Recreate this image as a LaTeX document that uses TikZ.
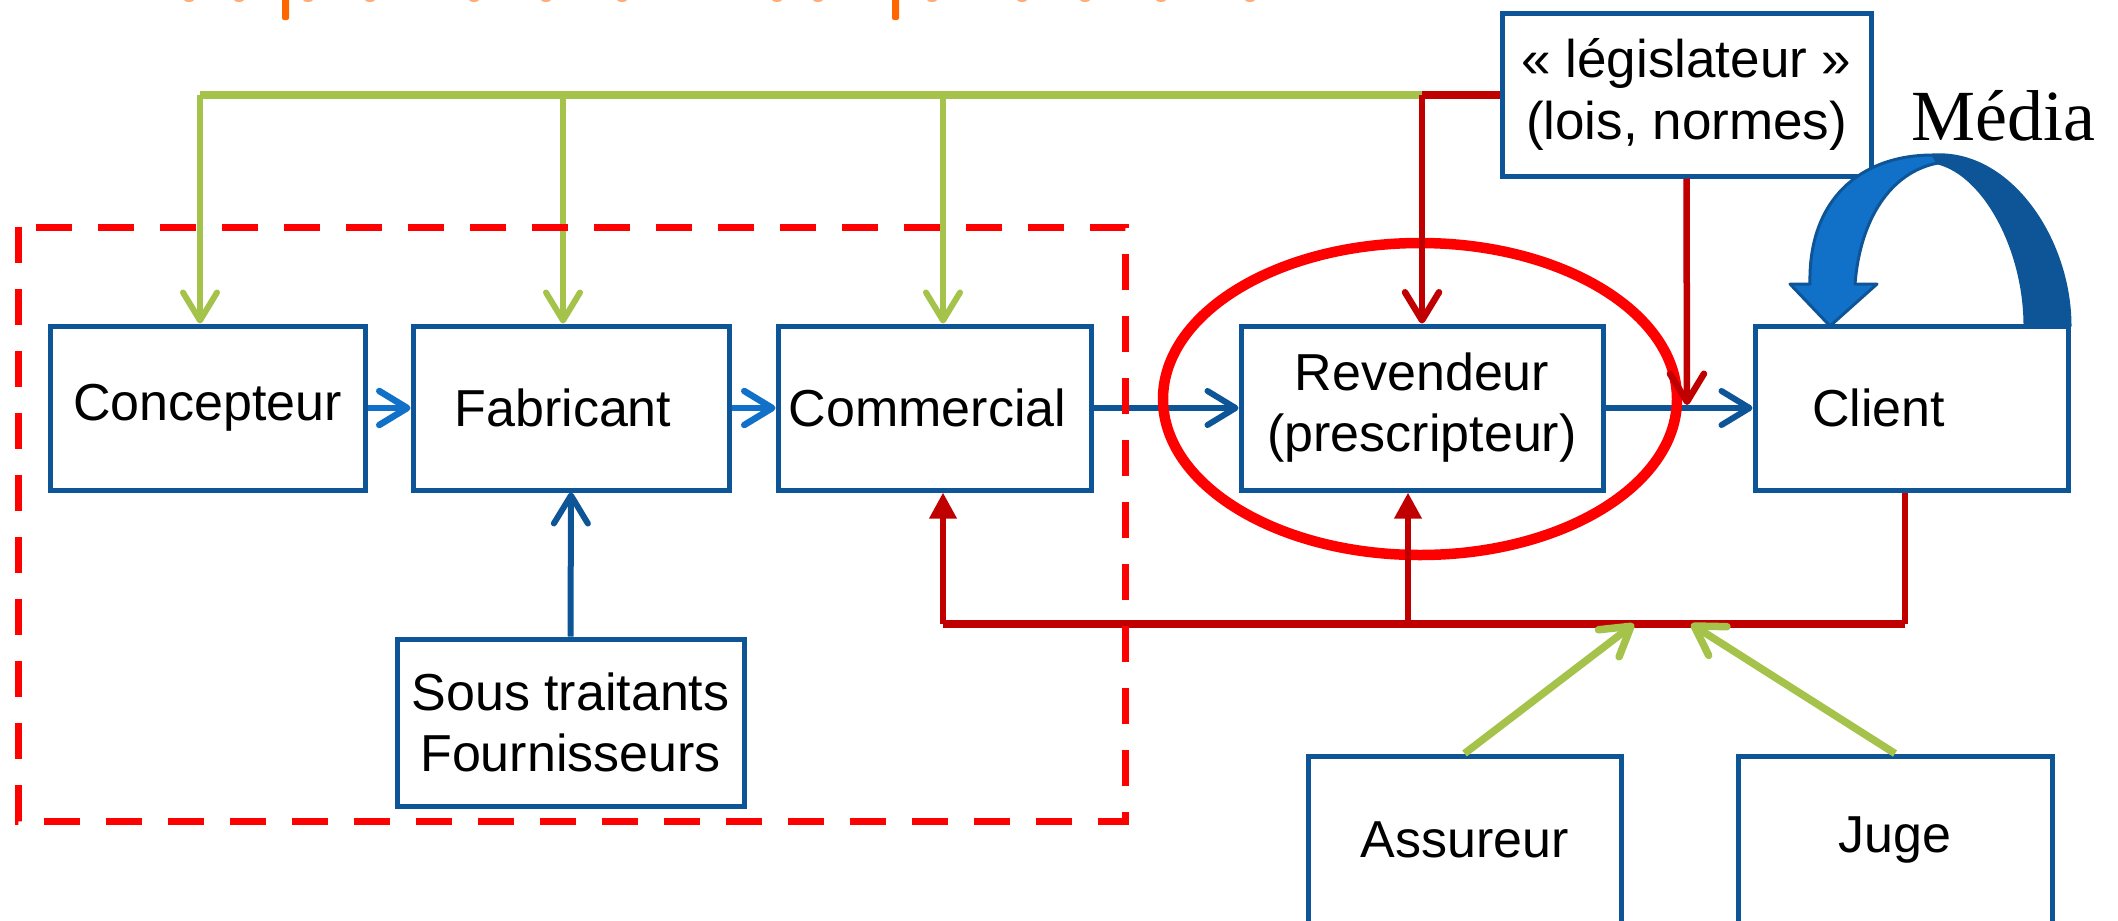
\documentclass[tikz,border=0pt]{standalone}
\usepackage{fontspec}
\setmainfont{Liberation Sans}
\newfontfamily\labelserif{Liberation Serif}
\usetikzlibrary{arrows.meta}

\definecolor{boxblue}{HTML}{0D5597}
\definecolor{arrowblue}{HTML}{1170C8}
\definecolor{leafgreen}{HTML}{A5C34A}
\definecolor{darkred}{HTML}{C00000}
\definecolor{brightred}{HTML}{FF0000}
\definecolor{titleorange}{HTML}{FF6600}

\begin{document}
\begin{tikzpicture}[x=1pt,y=-1pt,
  actor/.style={draw=boxblue, line width=5pt, fill=white, minimum height=164pt,
    inner sep=0pt, align=center, font=\fontsize{52}{61}\selectfont},
  barb/.style={-{Straight Barb[length=28pt,width=34pt,round]}},
  wedge/.style={-{Triangle[length=26pt,width=26pt]}},
  bluelink/.style={draw=boxblue, line width=6pt, barb},
  lightlink/.style={draw=arrowblue, line width=6.5pt, barb},
  greenline/.style={draw=leafgreen, line width=8pt},
  greenlink/.style={draw=leafgreen, line width=6pt, barb},
  greendiag/.style={draw=leafgreen, line width=7.5pt, barb},
  redline/.style={draw=darkred, line width=8pt},
  redlink/.style={draw=darkred, line width=6.5pt},
]
\useasboundingbox (0,0) rectangle (2118,921);

% remains of the heading along the top edge
\fill[titleorange, rounded corners=2pt] (282,-5) rectangle (289,20);
\fill[titleorange, rounded corners=2pt] (892,-5) rectangle (899,20);
\foreach \px in {189,239,308,370,474,546,622,777,818,932,1022,1085,1161,1250}
  \fill[titleorange!55] (\px,0) ellipse (5pt and 2pt);

% actors
\node[actor, minimum width=315pt] (conc) at (207.5,408) {Concepteur};
\node[actor, minimum width=316pt] (fab)  at (571,408)   {Fabricant\hspace*{16pt}};
\node[actor, minimum width=313pt] (comm) at (934.5,408) {Commercial\hspace*{14pt}};
\node[actor, minimum width=362pt] (rev)  at (1422,408)  {Revendeur\\(prescripteur)};
\node[actor, minimum width=313pt] (cli)  at (1911.5,408) {Client\hspace*{66pt}};
\node[actor, minimum width=347pt, minimum height=167pt] (sous) at (570.5,722.5)
  {Sous traitants\\Fournisseurs};
\node[actor, minimum width=369pt, minimum height=163pt,
      font=\fontsize{53}{62}\selectfont] (leg) at (1686.5,94.5)
  {«~législateur~»\\(lois, normes)};
\node[actor, minimum width=313pt, minimum height=168pt] (ass)  at (1464.5,840) {Assureur};
\node[actor, minimum width=314pt, minimum height=168pt] (juge) at (1895,840) {Juge};

% supply chain
\draw[lightlink] (conc.east) -- (fab.west);
\draw[lightlink] (fab.east) -- (comm.west);
\draw[bluelink] (comm.east) -- (rev.west);
\draw[bluelink] (rev.east) -- (cli.west);
\draw[bluelink] (sous.north) -- (fab.south);

% circled reseller
\draw[brightred, line width=10.5pt] (1420,399) ellipse (257pt and 156pt);

% rules handed down from the top
\coordinate (gA) at (200,95);
\coordinate (gB) at (563,95);
\coordinate (gC) at (943,95);
\coordinate (gJ) at (1422,95);
\draw[greenline] (gA) -- (gJ);
\draw[greenlink] (gA) -- (gA |- conc.north);
\draw[greenlink] (gB) -- (gB |- fab.north);
\draw[greenlink] (gC) -- (gC |- comm.north);
\draw[redline, line width=7.5pt] (gJ) -- (gJ -| leg.west);
\draw[redlink, barb] (gJ) -- (gJ |- rev.north);
\coordinate (legTip) at (1687,405);
\draw[redlink, barb] (leg.south) -- (legTip);

% feedback from the client
\coordinate (lowR) at (1905,624);
\coordinate (lowM) at (1408,624);
\coordinate (lowL) at (943,624);
\coordinate (insT) at (1634,624);
\coordinate (jugT) at (1691,624);
\draw[redlink] (lowR |- cli.south) -- (lowR);
\draw[redline] (lowR) -- (lowL);
\draw[redlink, wedge] (lowL) -- (lowL |- comm.south);
\draw[redlink, wedge] (lowM) -- (lowM |- rev.south);
\draw[greendiag] (ass.north) -- (insT);
\draw[greendiag] (juge.north) -- (jugT);

% company boundary
\draw[brightred, line width=7pt, dash pattern=on 36pt off 26pt]
  (18,227) rectangle (1125,821);

% media loop back onto the client
\filldraw[fill=boxblue, draw=boxblue, line width=3pt, line join=round]
  (1933,155) .. controls (2010,150) and (2070,240) .. (2070,326)
  -- (2025,326) .. controls (2025,250) and (1985,175) .. (1938,163) -- cycle;
\filldraw[fill=arrowblue, draw=boxblue, line width=3pt, line join=round]
  (1810,284) -- (1790,284) -- (1830,326) -- (1877,284) -- (1855,284)
  .. controls (1860,220) and (1890,172) .. (1938,163)
  -- (1933,155) .. controls (1860,155) and (1808,200) .. (1810,284) -- cycle;
\node[anchor=base west, inner sep=0pt, font=\labelserif\fontsize{72}{80}\selectfont]
  (media) at (1911,140) {Média};
\end{tikzpicture}
\end{document}
